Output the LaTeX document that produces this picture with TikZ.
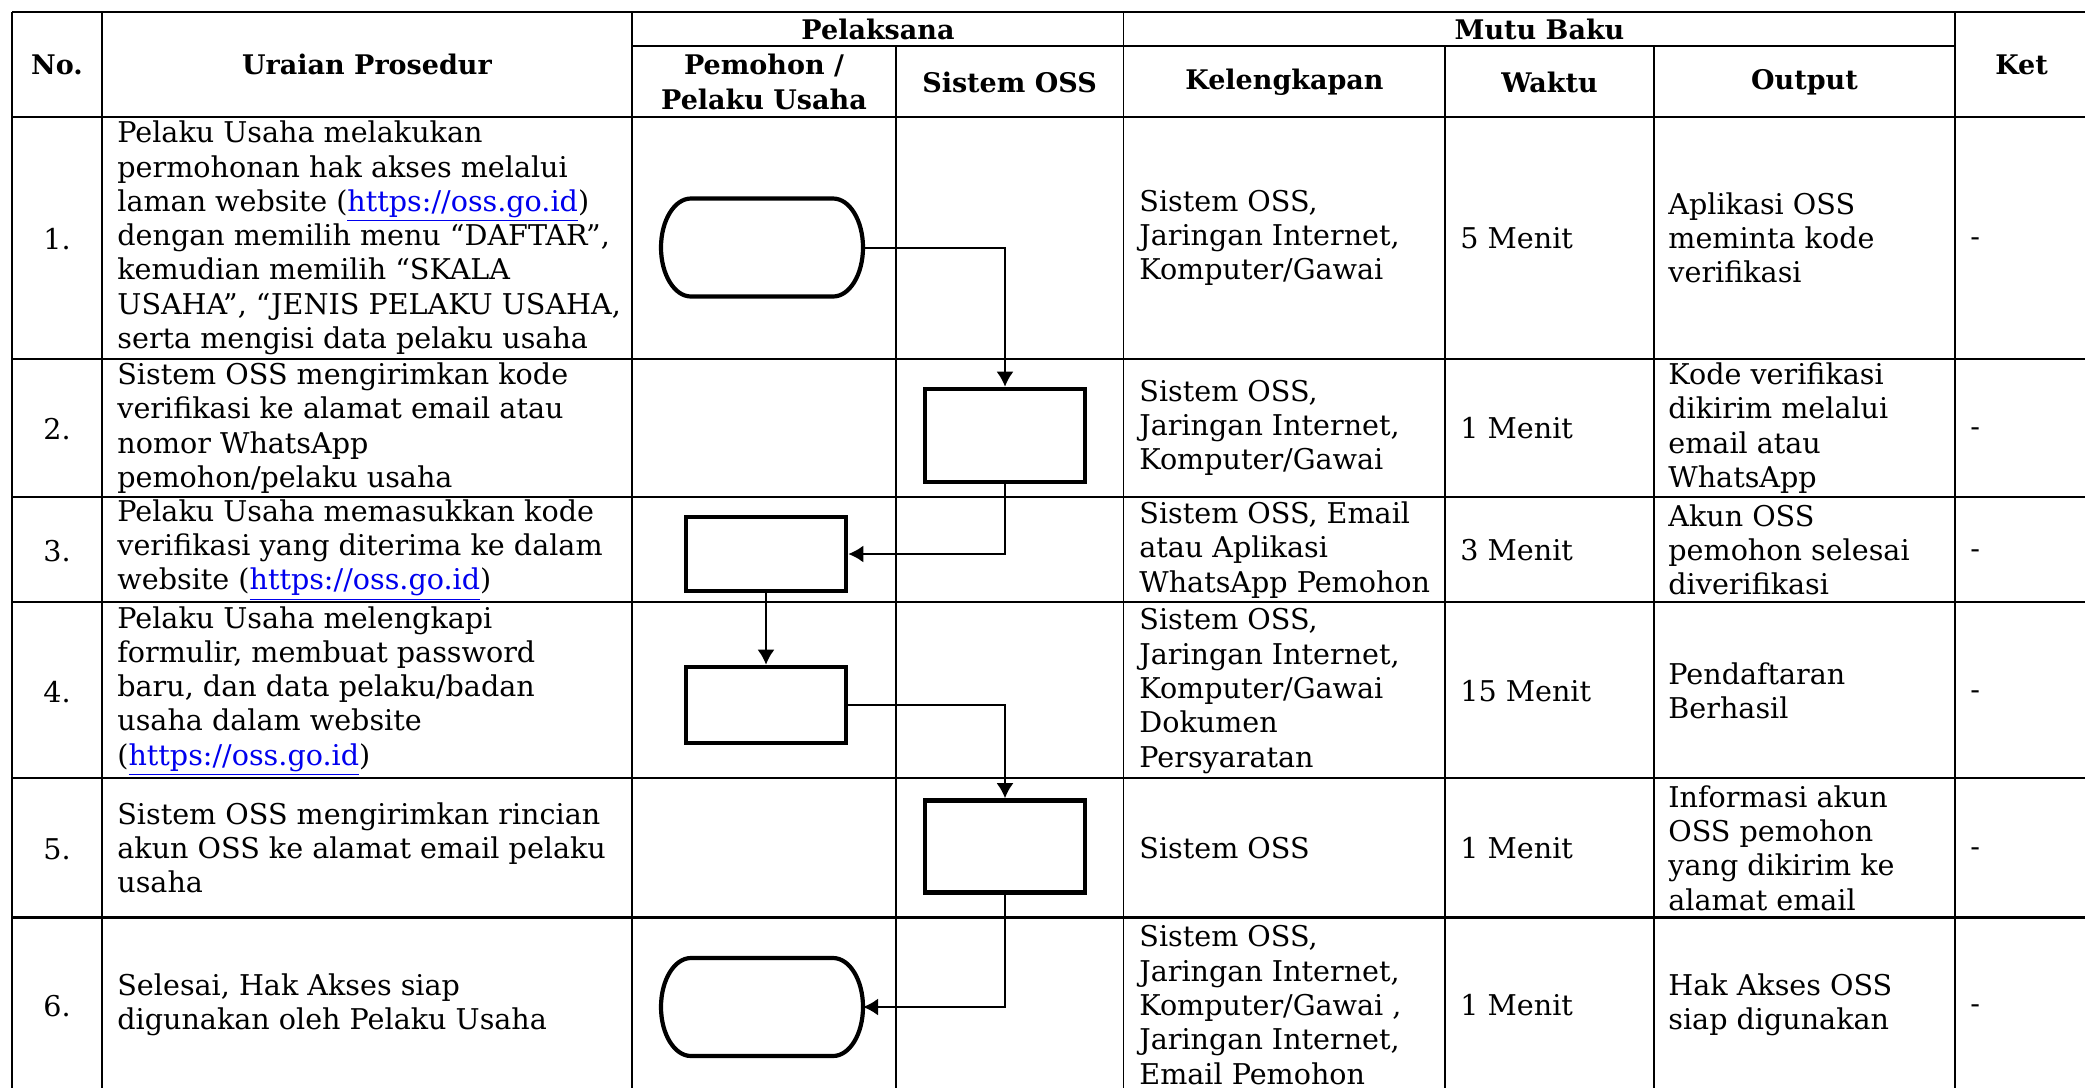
\documentclass[tikz,border=0pt]{standalone}
\usepackage{fontspec}
\setmainfont{DejaVu Serif}
\usetikzlibrary{arrows.meta}
\definecolor{linkblue}{RGB}{0,0,238}
\newcommand\osslink{\textcolor{linkblue}{\underline{https://oss.go.id}}}
\newcommand\bodyfnt{\fontsize{14.3}{17.15}\selectfont}
\newcommand\hdrfnt{\fontsize{13.5}{17.15}\selectfont\bfseries}
\newcommand\termoutline[1]{%
  \draw[termline] ([xshift=15pt]#1.north west) -- ([xshift=-15pt]#1.north east)
    arc[start angle=90,end angle=-90,x radius=15pt,y radius=24.5pt]
    -- ([xshift=15pt]#1.south west)
    arc[start angle=270,end angle=90,x radius=15pt,y radius=24.5pt] -- cycle;}
\begin{document}
\begin{tikzpicture}[x=0.5pt,y=-0.5pt,
  hline/.style={line width=1.1pt},
  vline/.style={line width=0.8pt},
  cell/.style={anchor=west,align=left,inner sep=0pt,font=\bodyfnt},
  num/.style={anchor=center,inner sep=0pt,font=\bodyfnt},
  hdr/.style={anchor=center,align=center,inner sep=0pt,font=\hdrfnt},
  procbox/.style={draw,rectangle,fill=white,line width=2.3pt,inner sep=0pt,minimum width=80pt},
  termslot/.style={rectangle,inner sep=0pt,outer sep=0pt,minimum width=101pt,minimum height=49pt},
  termline/.style={draw,fill=white,line width=2.1pt},
  conn/.style={line width=1pt,-{Latex[length=7.5pt,width=8.5pt]}}
]
\useasboundingbox (0,0) rectangle (2085,1088);
\fill[white] (0,0) rectangle (2085,1088);
\clip (0,0) rectangle (2085,1088);

% horizontal lines
\foreach \yy in {12,117,359,497,602,778,917.5,1093}{
  \draw[hline] (12,\yy) -- (2090,\yy);
}
\draw[hline] (632,46) -- (1955,46);
% vertical lines
\draw[line width=1.2pt] (12,12) -- (12,1093);
\foreach \xx in {102,632,1123.5,1955,2089}{
  \draw[vline] (\xx,12) -- (\xx,1093);
}
\foreach \xx in {896,1445,1654}{
  \draw[vline] (\xx,46) -- (\xx,1093);
}

% headers
\node[hdr] (hno) at (57,64.5) {No.};
\node[hdr] (hur) at (367,64.5) {Uraian Prosedur};
\node[hdr] (hpel) at (878,29) {Pelaksana};
\node[hdr] (hpem) at (764,82) {Pemohon /\\Pelaku Usaha};
\node[hdr] (hsis) at (1009.5,82) {Sistem OSS};
\node[hdr] (hmut) at (1539.5,29) {Mutu Baku};
\node[hdr] (hkel) at (1284.5,82) {Kelengkapan};
\node[hdr] (hwak) at (1549.5,82) {Waktu};
\node[hdr] (hout) at (1804.5,82) {Output};
\node[hdr] (hket) at (2021.5,64.5) {Ket};

% row 1
\node[num] (n1) at (57,239) {1.};
\node[cell] (u1) at (117,238) {Pelaku Usaha melakukan\\permohonan hak akses melalui\\laman website (\osslink)\\dengan memilih menu “DAFTAR”,\\kemudian memilih “SKALA\\USAHA”, “JENIS PELAKU USAHA,\\serta mengisi data pelaku usaha};
\node[cell] (k1) at (1139,238) {Sistem OSS,\\Jaringan Internet,\\Komputer/Gawai};
\node[cell] (w1) at (1460,238) {5 Menit};
\node[cell] (o1) at (1668,238) {Aplikasi OSS\\meminta kode\\verifikasi};
\node[cell] (t1) at (1970,242) {-};

% row 2
\node[num] (n2) at (57,429) {2.};
\node[cell] (u2) at (117,428) {Sistem OSS mengirimkan kode\\verifikasi ke alamat email atau\\nomor WhatsApp\\pemohon/pelaku usaha};
\node[cell] (k2) at (1139,428) {Sistem OSS,\\Jaringan Internet,\\Komputer/Gawai};
\node[cell] (w2) at (1460,428) {1 Menit};
\node[cell] (o2) at (1668,428) {Kode verifikasi\\dikirim melalui\\email atau\\WhatsApp};
\node[cell] (t2) at (1970,432) {-};

% row 3
\node[num] (n3) at (57,551) {3.};
\node[cell] (u3) at (117,550) {Pelaku Usaha memasukkan kode\\verifikasi yang diterima ke dalam\\website (\osslink)};
\node[cell] (k3) at (1139,550) {Sistem OSS, Email\\atau Aplikasi\\WhatsApp Pemohon};
\node[cell] (w3) at (1460,550) {3 Menit};
\node[cell] (o3) at (1668,550) {Akun OSS\\pemohon selesai\\diverifikasi};
\node[cell] (t3) at (1970,554) {-};

% row 4
\node[num] (n4) at (57,692) {4.};
\node[cell] (u4) at (117,691) {Pelaku Usaha melengkapi\\formulir, membuat password\\baru, dan data pelaku/badan\\usaha dalam website\\(\osslink)};
\node[cell] (k4) at (1139,691) {Sistem OSS,\\Jaringan Internet,\\Komputer/Gawai\\Dokumen\\Persyaratan};
\node[cell] (w4) at (1460,691) {15 Menit};
\node[cell] (o4) at (1668,691) {Pendaftaran\\Berhasil};
\node[cell] (t4) at (1970,695) {-};

% row 5
\node[num] (n5) at (57,849) {5.};
\node[cell] (u5) at (117,848) {Sistem OSS mengirimkan rincian\\akun OSS ke alamat email pelaku\\usaha};
\node[cell] (k5) at (1139,848) {Sistem OSS};
\node[cell] (w5) at (1460,848) {1 Menit};
\node[cell] (o5) at (1668,848) {Informasi akun\\OSS pemohon\\yang dikirim ke\\alamat email};
\node[cell] (t5) at (1970,852) {-};

% row 6
\node[num] (n6) at (57,1006) {6.};
\node[cell] (u6) at (117,1005) {Selesai, Hak Akses siap\\digunakan oleh Pelaku Usaha};
\node[cell] (k6) at (1139,1005) {Sistem OSS,\\Jaringan Internet,\\Komputer/Gawai ,\\Jaringan Internet,\\Email Pemohon};
\node[cell] (w6) at (1460,1005) {1 Menit};
\node[cell] (o6) at (1668,1005) {Hak Akses OSS\\siap digunakan};
\node[cell] (t6) at (1970,1009) {-};

% flowchart shapes
\node[termslot] (s1) at (762,247.5) {};
\termoutline{s1}
\node[procbox,minimum height=46.5pt] (s2) at (1005,435.5) {};
\node[procbox,minimum height=37pt] (s3) at (766,554) {};
\node[procbox,minimum height=38pt] (s4) at (766,705) {};
\node[procbox,minimum height=46pt] (s5) at (1005,846.5) {};
\node[termslot] (s6) at (762,1007) {};
\termoutline{s6}

% connectors
\draw[conn] (s1.east) -| (s2.north);
\draw[conn] (s2.south) |- (s3.east);
\draw[conn] (s3.south) -- (s4.north);
\draw[conn] (s4.east) -| (s5.north);
\draw[conn] (s5.south) |- (s6.east);
\end{tikzpicture}
\end{document}
